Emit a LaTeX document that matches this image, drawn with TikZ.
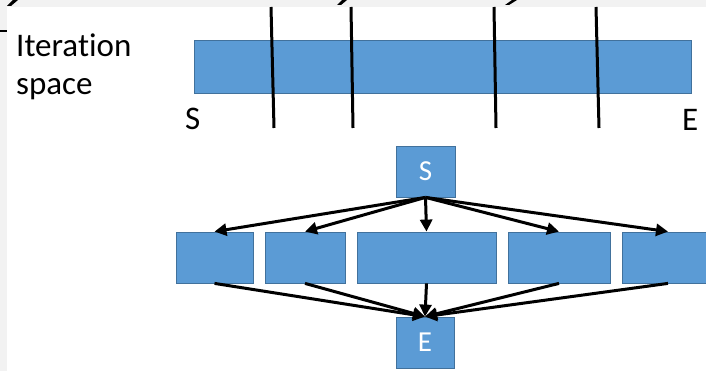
\documentclass[tikz,border=0pt]{standalone}
\usepackage{fontspec}
\setmainfont[Ligatures=NoCommon]{Carlito}
\usetikzlibrary{arrows.meta}
\definecolor{boxblue}{HTML}{5B9BD5}
\definecolor{boxedge}{HTML}{41719C}
\definecolor{slidegray}{HTML}{F2F2F2}
\begin{document}
\begin{tikzpicture}[x=1pt,y=-1pt,
  block/.style={draw=boxedge, line width=0.8pt, fill=boxblue, inner sep=0pt,
    text=white, font=\fontsize{29}{31}\selectfont},
  flow/.style={line width=3pt, -{Triangle[length=12pt,width=12pt]}},
  cut/.style={line width=3pt, black},
  caption/.style={inner sep=0pt, font=\fontsize{33}{38}\selectfont}]
  \useasboundingbox (0,0) rectangle (706,371);
  \clip (0,0) rectangle (706,371);

  % slide backdrop and white panel
  \fill[slidegray] (0,0) rectangle (706,371);
  \fill[white] (7,7) rectangle (706,371);
  % ends of the heading glyphs above the panel
  \fill[black] (7,6) -- (11,6) -- (18,0) -- (13,0) -- cycle;
  \fill[black] (337,5) -- (341,5) -- (347,0) -- (342,0) -- cycle;
  \fill[black] (505,5) -- (509,5) -- (517,0) -- (512,0) -- cycle;
  \draw[black, line width=1.5pt] (0,31) -- (7,31);

  % iteration space bar
  \node[block, minimum width=497pt, minimum height=53pt] (bar) at (442.5,66.5) {};
  \node[caption, align=left, anchor=north west] (lbl) at (16,34) {Iteration\\space};
  \node[caption, anchor=base west] (bs) at (185,130) {S};
  \node[caption, anchor=base west] (be) at (682,131) {E};

  % chunk boundaries
  \draw[cut] (271,7) -- (274,128);
  \draw[cut] (351,7) -- (353,128);
  \draw[cut] (494,7) -- (496,128);
  \draw[cut] (596,7) -- (599,128);

  % task graph
  \node[block, minimum width=59pt, minimum height=51pt] (S) at (425.5,171.5) {S};
  \node[block, minimum width=77pt, minimum height=51pt] (b1) at (214.5,257.5) {};
  \node[block, minimum width=80pt, minimum height=51pt] (b2) at (305,257.5) {};
  \node[block, minimum width=139pt, minimum height=51pt] (b3) at (426.5,257.5) {};
  \node[block, minimum width=102pt, minimum height=51pt] (b4) at (559,257.5) {};
  \node[block, minimum width=92pt, minimum height=51pt] (b5) at (668,257.5) {};
  \node[block, minimum width=58pt, minimum height=51pt] (E) at (425,342.5) {E};

  \foreach \b in {b1,b2,b3,b4,b5} {
    \draw[flow] (S.south) -- (\b.north);
    \draw[flow] (\b.south) -- (E.north);
  }
\end{tikzpicture}
\end{document}
